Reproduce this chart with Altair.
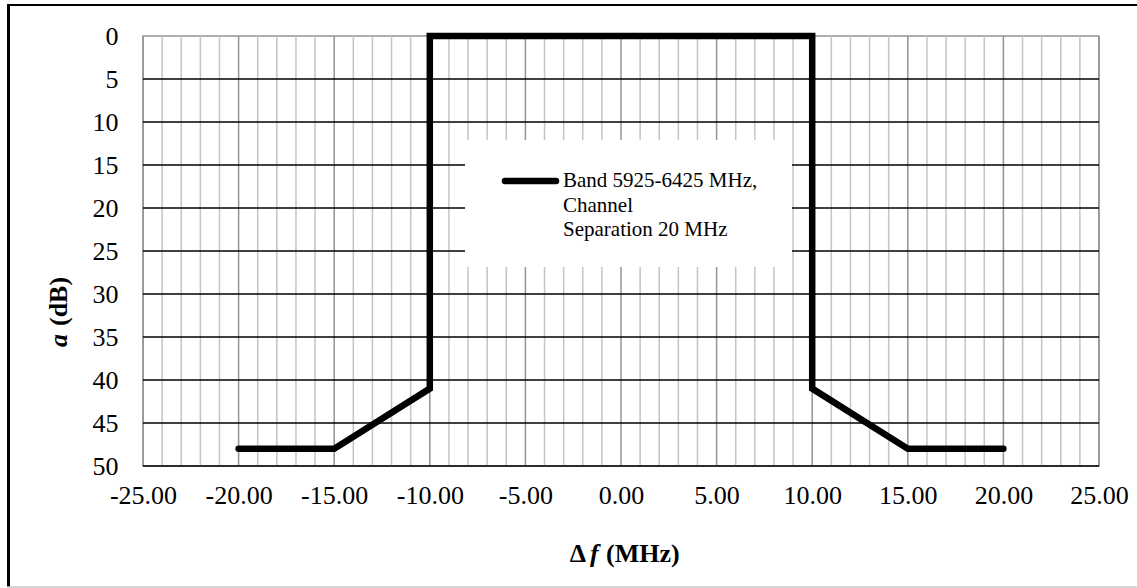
import altair as alt
import pandas as pd

# Mask of the 5925-6425 MHz band, 20 MHz channel separation
delta_f = [-20, -15, -10, -10, 10, 10, 15, 20]      # MHz
atten_db = [48, 48, 41, 0, 0, 41, 48, 48]           # dB

x_ticks = [-25, -20, -15, -10, -5, 0, 5, 10, 15, 20, 25]
y_ticks = [0, 5, 10, 15, 20, 25, 30, 35, 40, 45, 50]
x_grid = list(range(-25, 26))
y_grid = [5, 10, 15, 20, 25, 30, 35, 40, 45, 50]

legend_lines = ["Band 5925-6425 MHz,", "Channel", "Separation 20 MHz"]

FONT = "Liberation Serif"
W, H = 956, 430

mask = pd.DataFrame({"df": delta_f, "a": atten_db, "idx": range(len(delta_f))})
xg = pd.DataFrame({"x": x_grid})
yg = pd.DataFrame({"y": y_grid})
one = pd.DataFrame({"k": [0]})

xs = alt.Scale(domain=[-25, 25], nice=False, zero=False)
ys = alt.Scale(domain=[0, 50], nice=False, zero=False, reverse=True)

x_axis = alt.Axis(values=x_ticks, grid=False, ticks=False, domain=False, title=None,
                  labelFont=FONT, labelFontSize=26, labelColor="black", labelPadding=16,
                  labelExpr="(datum.value < 0 ? '-' : '') + format(abs(datum.value), '.2f')",
                  labelOverlap=False, labelFlush=False)
y_axis = alt.Axis(values=y_ticks, grid=False, ticks=False, domain=False, title=None,
                  labelFont=FONT, labelFontSize=26, labelColor="black", labelPadding=25,
                  format="d", labelOverlap=False, labelFlush=False)

# vertical grid: light every 1 MHz, darker every 5 MHz
vgrid = alt.Chart(xg).mark_rule(strokeWidth=1.5).encode(
    x=alt.X("x:Q", scale=xs, axis=x_axis),
    color=alt.condition("datum.x % 5 === 0", alt.value("#949494"), alt.value("#c4c4c4")),
)

# horizontal grid every 5 dB
hgrid = alt.Chart(yg).mark_rule(strokeWidth=1.6, color="black").encode(
    y=alt.Y("y:Q", scale=ys, axis=y_axis),
)


def text_at(text, x, y, size=26, bold=True, italic=False, align="left",
            baseline="alphabetic", angle=0):
    kw = dict(align=align, baseline=baseline, font=FONT, fontSize=size, color="black")
    if bold:
        kw["fontWeight"] = "bold"
    if italic:
        kw["fontStyle"] = "italic"
    if angle:
        kw["angle"] = angle
    return alt.Chart(one).mark_text(**kw).encode(
        x=alt.value(x), y=alt.value(y), text=alt.value(text)
    )


# legend box
legend_box = alt.Chart(one).mark_rect(color="white").encode(
    x=alt.value(322), x2=alt.value(649), y=alt.value(104), y2=alt.value(231)
)
legend_swatch = alt.Chart(one).mark_rule(
    color="black", strokeWidth=6.5, strokeCap="round"
).encode(x=alt.value(362), x2=alt.value(413), y=alt.value(145))
legend_text = alt.layer(*[
    text_at(t, 420, yy, size=21, bold=False, baseline="middle")
    for t, yy in zip(legend_lines, [145, 169.5, 194])
])

line = alt.Chart(mask).mark_line(
    color="black", strokeWidth=6.5, strokeCap="round", strokeJoin="miter"
).encode(
    x=alt.X("df:Q", scale=xs),
    y=alt.Y("a:Q", scale=ys),
    order="idx:Q",
)

# axis titles with mixed styles
x_title = (text_at("Δ", 443, 526, align="right")
           + text_at("f", 447, 526, italic=True)
           + text_at("(MHz)", 463, 526))
y_title = (text_at("(dB)", -84, 290, baseline="middle", angle=270)
           + text_at("a", -84, 298, italic=True, align="right", baseline="middle", angle=270))

# outer frame
frame = (
    alt.Chart(one).mark_rule(color="black", strokeWidth=2).encode(
        x=alt.value(-136), x2=alt.value(1000), y=alt.value(-31))
    + alt.Chart(one).mark_rule(color="black", strokeWidth=3).encode(
        x=alt.value(-134.5), y=alt.value(-31), y2=alt.value(551))
    + alt.Chart(one).mark_rule(color="#c8c8c8", strokeWidth=1.5).encode(
        x=alt.value(-136), x2=alt.value(1000), y=alt.value(551))
)

chart = alt.layer(
    vgrid, hgrid, legend_box, legend_swatch, legend_text, line, x_title, y_title, frame
).properties(
    width=W, height=H,
    autosize=alt.AutoSizeParams(type="none"),
    padding={"left": 143, "top": 36, "right": 38, "bottom": 122},
    background="white",
).configure_view(stroke="#949494", strokeWidth=1.5)

chart.save("out.html", embed_options={"renderer": "svg", "actions": False})
